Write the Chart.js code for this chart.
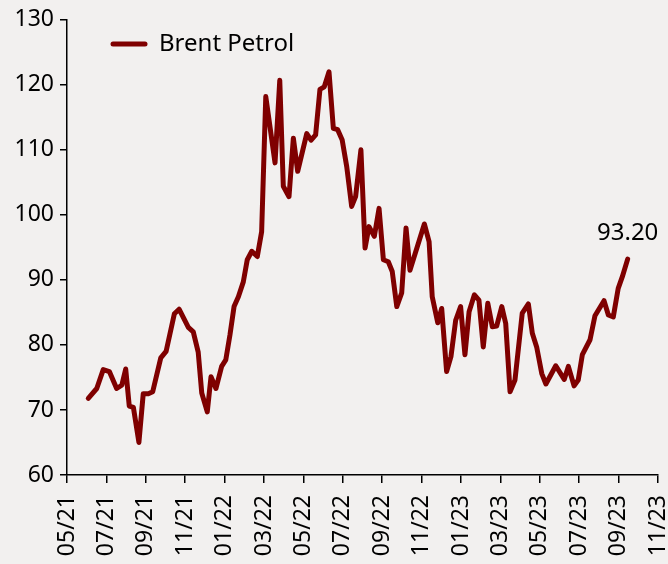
<!DOCTYPE html>
<html>
<head>
<meta charset="utf-8">
<script src="https://cdn.jsdelivr.net/npm/chart.js@4.4.0/dist/chart.umd.min.js"></script>
<style>
	html, body { margin: 0; padding: 0; background: #f2f0ef; overflow: hidden; }
	#wrap { width: 668px; height: 600px; position: relative; }
</style>
</head>
<body>
<div id="wrap"><canvas id="mycanvas"></canvas></div>
<script>
// months since 05/21 (x position of each weekly turning point) and Brent price
var months = [1.08, 1.51, 1.84, 2.15, 2.52, 2.78, 2.98, 3.16, 3.37, 3.65, 3.87, 4.13, 4.35, 4.76, 5.03, 5.45, 5.69, 6.16, 6.41, 6.66,
	6.84, 7.12, 7.31, 7.56, 7.85, 8.06, 8.27, 8.48, 8.70, 8.95, 9.15, 9.38, 9.66, 9.88, 10.09, 10.56, 10.80, 10.98, 11.27, 11.49,
	11.71, 12.17, 12.39, 12.62, 12.84, 13.06, 13.30, 13.52, 13.74, 13.97, 14.20, 14.45, 14.65, 14.92, 15.13, 15.33, 15.60, 15.84, 16.06, 16.31,
	16.51, 16.74, 16.99, 17.21, 17.41, 18.14, 18.38, 18.54, 18.82, 19.02, 19.27, 19.49, 19.73, 19.98, 20.20, 20.41, 20.68, 20.91, 21.13, 21.36,
	21.59, 21.81, 22.07, 22.27, 22.49, 22.74, 23.11, 23.42, 23.62, 23.84, 24.10, 24.31, 24.81, 25.24, 25.45, 25.74, 25.95, 26.16, 26.55, 26.80,
	27.26, 27.48, 27.73, 27.98, 28.19, 28.46];
var brent = [71.8, 73.3, 76.2, 75.9, 73.3, 73.8, 76.3, 70.6, 70.4, 65.0, 72.5, 72.5, 72.8, 78.0, 79.0, 84.8, 85.5, 82.7, 82.0, 78.9,
	72.6, 69.7, 75.1, 73.3, 76.7, 77.7, 81.5, 85.9, 87.4, 89.7, 93.1, 94.4, 93.6, 97.4, 118.2, 108.0, 120.7, 104.4, 102.8, 111.8,
	106.7, 112.5, 111.5, 112.3, 119.3, 119.7, 122.0, 113.3, 113.1, 111.5, 107.4, 101.3, 102.8, 110.0, 94.9, 98.2, 96.7, 101.0, 93.1, 92.8,
	91.3, 85.9, 88.0, 98.0, 91.5, 98.6, 95.9, 87.4, 83.4, 85.6, 75.9, 78.2, 83.8, 85.9, 78.5, 85.1, 87.7, 86.9, 79.7, 86.4,
	82.8, 82.9, 85.9, 83.3, 72.8, 74.6, 84.9, 86.3, 81.8, 79.7, 75.6, 74.0, 76.8, 74.7, 76.7, 73.7, 74.6, 78.5, 80.8, 84.5,
	86.8, 84.6, 84.3, 88.7, 90.5, 93.2];
var tickLabels = ['05/21', '07/21', '09/21', '11/21', '01/22', '03/22', '05/22', '07/22', '09/22', '11/22',
	'01/23', '03/23', '05/23', '07/23', '09/23', '11/23'];
var seriesName = 'Brent Petrol';
var lastLabel = '93.20';

var lineColor = '#7f0000';
var fontFam = '"Noto Sans", sans-serif';

var points = [];
for (var i in months) {
	points.push({x: months[i], y: brent[i]});
}

// legend and end label drawn by hand
var extras = {
	id: 'extras',
	afterDatasetsDraw: function(chart) {
		var ctx = chart.ctx;
		ctx.save();
		ctx.strokeStyle = lineColor;
		ctx.lineWidth = 5;
		ctx.lineCap = 'round';
		ctx.beginPath();
		ctx.moveTo(113, 44);
		ctx.lineTo(145, 44);
		ctx.stroke();
		ctx.fillStyle = '#000';
		ctx.font = '24px ' + fontFam;
		ctx.textBaseline = 'middle';
		ctx.textAlign = 'left';
		ctx.fillText(seriesName, 159, 44);

		var xs = chart.scales.x, ys = chart.scales.y;
		var n = months.length - 1;
		var px = xs.getPixelForValue(months[n]);
		var py = ys.getPixelForValue(brent[n]);
		ctx.textAlign = 'center';
		ctx.textBaseline = 'bottom';
		ctx.fillText(lastLabel, px, py - 14);
		ctx.restore();
	}
};

var ctx = document.getElementById('mycanvas');
var chart = new Chart(ctx, {
	type: 'line',
	data: {
		datasets: [{
			label: seriesName,
			data: points,
			borderColor: lineColor,
			borderWidth: 5,
			borderJoinStyle: 'round',
			borderCapStyle: 'round',
			pointRadius: 0,
			tension: 0,
			fill: false
		}]
	},
	options: {
		responsive: true,
		maintainAspectRatio: false,
		animation: false,
		layout: { padding: { top: 6, right: 10, left: 0, bottom: 0 } },
		plugins: {
			legend: { display: false },
			tooltip: { enabled: false }
		},
		scales: {
			x: {
				type: 'linear',
				min: 0,
				max: 30,
				afterBuildTicks: function(scale) {
					scale.ticks = tickLabels.map(function(t, k) { return {value: k * 2}; });
				},
				afterFit: function(scale) {
					scale.height = 125;
					scale.paddingLeft = 0;
					scale.paddingRight = 0;
				},
				grid: { drawOnChartArea: false, drawTicks: true, tickLength: 8, color: '#000', lineWidth: 1.5 },
				border: { display: true, color: '#000', width: 1.5 },
				ticks: {
					color: '#000',
					font: { family: fontFam, size: 23 },
					maxRotation: 90,
					minRotation: 90,
					padding: 12,
					autoSkip: false,
					callback: function(v, k) { return tickLabels[k]; }
				}
			},
			y: {
				min: 60,
				max: 130,
				afterFit: function(scale) { scale.width = 67; },
				grid: { drawOnChartArea: false, drawTicks: true, tickLength: 7, color: '#000', lineWidth: 1.5 },
				border: { display: true, color: '#000', width: 1.5 },
				ticks: {
					stepSize: 10,
					color: '#000',
					font: { family: fontFam, size: 23 },
					padding: 6
				}
			}
		}
	},
	plugins: [extras]
});
</script>
</body>
</html>
